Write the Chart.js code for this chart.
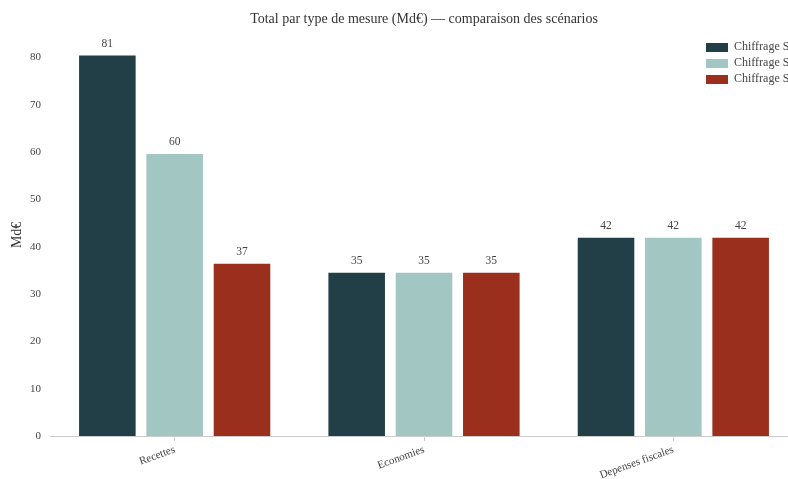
<!DOCTYPE html>
<html>
<head>
<meta charset="utf-8">
<script src="https://cdn.jsdelivr.net/npm/chart.js@4.4.1/dist/chart.umd.min.js"></script>
<style>
    html, body { margin: 0; padding: 0; background: #fff; overflow: hidden; }
    #wrap { width: 800px; height: 479px; }
</style>
</head>
<body>
<div id="wrap"><canvas id="chart-mesures"></canvas></div>
<script>
// Data
var categories = ['Recettes', 'Economies', 'Depenses fiscales'];
var seriesNames = ['Chiffrage S', 'Chiffrage S', 'Chiffrage S'];
var chiffrageA = [80.6, 34.7, 42.1];
var chiffrageB = [59.8, 34.7, 42.1];
var chiffrageC = [36.6, 34.7, 42.1];
var yTicks = [0, 10, 20, 30, 40, 50, 60, 70, 80];
var seriesColors = ['#223e46', '#a2c7c2', '#9b2f1e'];

var serif = "'Liberation Serif', 'DejaVu Serif', serif";
Chart.defaults.font.family = serif;
Chart.defaults.color = '#444';

// Value labels above each bar
var valueLabels = {
    id: 'valueLabels',
    afterDatasetsDraw: function (chart) {
        var ctx = chart.ctx;
        ctx.save();
        ctx.font = '11.5px ' + serif;
        ctx.fillStyle = '#444';
        ctx.textAlign = 'center';
        ctx.textBaseline = 'bottom';
        chart.data.datasets.forEach(function (ds, i) {
            chart.getDatasetMeta(i).data.forEach(function (bar, j) {
                ctx.fillText(Math.round(ds.data[j]), bar.x, bar.y - 5);
            });
        });
        ctx.restore();
    }
};

// Stacked legend in the top right corner
var cornerLegend = {
    id: 'cornerLegend',
    afterDraw: function (chart) {
        var ctx = chart.ctx;
        var x = chart.width - 94;
        var y = 47;
        ctx.save();
        ctx.font = '12px ' + serif;
        ctx.textBaseline = 'middle';
        chart.data.datasets.forEach(function (ds, i) {
            ctx.fillStyle = ds.backgroundColor;
            ctx.fillRect(x, y + i * 16 - 4, 22, 9);
            ctx.fillStyle = '#444';
            ctx.fillText(ds.label, x + 28, y + i * 16);
        });
        ctx.restore();
    }
};

new Chart(document.getElementById('chart-mesures'), {
    type: 'bar',
    data: {
        labels: categories,
        datasets: [chiffrageA, chiffrageB, chiffrageC].map(function (values, i) {
            return {
                label: seriesNames[i],
                data: values,
                backgroundColor: seriesColors[i],
                borderColor: 'rgba(255,255,255,0.3)',
                borderWidth: 1,
                categoryPercentage: 0.81,
                barPercentage: 0.87
            };
        })
    },
    options: {
        responsive: true,
        maintainAspectRatio: false,
        animation: false,
        layout: { padding: { left: 0, right: 2, top: 0, bottom: 0 } },
        plugins: {
            legend: { display: false },
            tooltip: { enabled: false },
            title: {
                display: true,
                fullSize: false,
                text: 'Total par type de mesure (Md€) — comparaison des scénarios',
                color: '#333',
                font: { size: 14, weight: 'normal' },
                padding: { top: 11, bottom: 6 }
            }
        },
        scales: {
            x: {
                grid: { display: true, drawOnChartArea: false, drawTicks: true, tickLength: 5, color: '#ccc', offset: false },
                border: { display: true, color: '#ccc' },
                ticks: { minRotation: 20, maxRotation: 20, font: { size: 11 }, color: '#444', padding: 2 },
                afterFit: function (axis) { axis.height = 43; }
            },
            y: {
                min: 0,
                max: 85,
                grid: { display: false, drawTicks: false },
                border: { display: false },
                afterBuildTicks: function (axis) {
                    axis.ticks = yTicks.map(function (v) { return { value: v }; });
                },
                ticks: { font: { size: 11 }, color: '#444', padding: 9 },
                title: { display: true, text: 'Md€', color: '#333', font: { size: 14 }, padding: { top: 9, bottom: 0 } },
                afterFit: function (axis) { axis.width = 50; }
            }
        }
    },
    plugins: [valueLabels, cornerLegend]
});
</script>
</body>
</html>
